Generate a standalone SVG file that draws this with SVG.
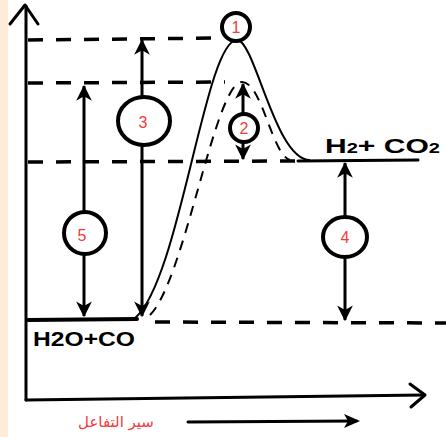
<svg xmlns="http://www.w3.org/2000/svg" width="446" height="437" viewBox="0 0 446 437">
<style>
.ax{stroke:#000;stroke-width:3;fill:none;stroke-linecap:round;stroke-linejoin:round}
.dash{stroke:#000;stroke-width:3.5;stroke-dasharray:15 13;fill:none}
.curve{stroke:#000;stroke-width:2;fill:none}
.dcurve{stroke:#000;stroke-width:2;fill:none;stroke-dasharray:10 8}
.arr{stroke:#000;stroke-width:3;fill:none}
.node{stroke:#000;stroke-width:4;fill:#fff}
.num{font-family:"Liberation Sans",Arial,sans-serif;font-size:16px;fill:#f03c3c;text-anchor:middle}
.chem{font-family:"Liberation Sans",Arial,sans-serif;font-weight:bold;fill:#000}
</style>
<defs>
<marker id="ah" markerUnits="userSpaceOnUse" markerWidth="18" markerHeight="18" viewBox="0 0 16 16" refX="14" refY="8" orient="auto-start-reverse">
<path d="M1,1 L15,8 L1,15 L5,8 z" fill="#000"/>
</marker>
</defs>
<rect x="0" y="0" width="446" height="437" fill="#fff"/>
<rect x="0" y="0" width="8" height="437" fill="#feecd8"/>
<g id="axes">
<line class="ax" x1="26" y1="400" x2="26" y2="6"/>
<polyline class="ax" points="10,24 25,5 38,24"/>
<line class="ax" x1="26" y1="400" x2="424" y2="395"/>
<polyline class="ax" points="410,384 425,395 411,407"/>
<line class="ax" x1="188" y1="422" x2="356" y2="421"/>
<path d="M344,414 L360,421 L344,428 L348,421 z" fill="#000"/>
</g>
<g id="levels">
<line class="dash" x1="28" y1="40" x2="222" y2="38"/>
<line class="dash" x1="28" y1="83" x2="225" y2="82"/>
<line class="dash" x1="28" y1="162" x2="298" y2="161"/>
<line class="ax" x1="298" y1="161" x2="418" y2="160"/>
<line class="ax" x1="28" y1="320" x2="137" y2="319" style="stroke-width:4"/>
<line class="dash" x1="155" y1="322" x2="446" y2="323"/>
</g>
<g id="connectors">
<path class="curve" d="M135,318 C180,280 205,40 237,40 C255,40 275,160 310,160"/>
<path class="dcurve" d="M150,315 C185,280 215,82 242,82 C262,82 272,155 290,160"/>
<line class="arr" x1="84" y1="86" x2="84" y2="316" marker-start="url(#ah)" marker-end="url(#ah)"/>
<line class="arr" x1="142" y1="40" x2="142" y2="316" marker-start="url(#ah)" marker-end="url(#ah)"/>
<line class="arr" x1="243" y1="84" x2="243" y2="159" marker-start="url(#ah)" marker-end="url(#ah)"/>
<line class="arr" x1="345" y1="163" x2="345" y2="320" marker-start="url(#ah)" marker-end="url(#ah)"/>
</g>
<g id="n1"><circle class="node" cx="236" cy="27" r="14"/><text class="num" x="236" y="33">1</text></g>
<g id="n2"><circle class="node" cx="244" cy="128" r="14"/><text class="num" x="244" y="134">2</text></g>
<g id="n3"><ellipse class="node" cx="144" cy="121" rx="26" ry="24"/><text class="num" x="143" y="128">3</text></g>
<g id="n4"><ellipse class="node" cx="345" cy="237" rx="22" ry="20"/><text class="num" x="345" y="243">4</text></g>
<g id="n5"><ellipse class="node" cx="85" cy="233" rx="21" ry="21"/><text class="num" x="82" y="241">5</text></g>
<g id="labels">
<text class="chem" x="325" y="153" font-size="21" textLength="115" lengthAdjust="spacingAndGlyphs">H<tspan font-size="14">2</tspan>+ CO<tspan font-size="14">2</tspan></text>
<text class="chem" x="33" y="346" font-size="21" textLength="102" lengthAdjust="spacingAndGlyphs">H2O+CO</text>
<text x="116" y="427" font-family="DejaVu Sans, sans-serif" font-size="15" fill="#f03c3c" text-anchor="middle">سير التفاعل</text>
</g>
</svg>
